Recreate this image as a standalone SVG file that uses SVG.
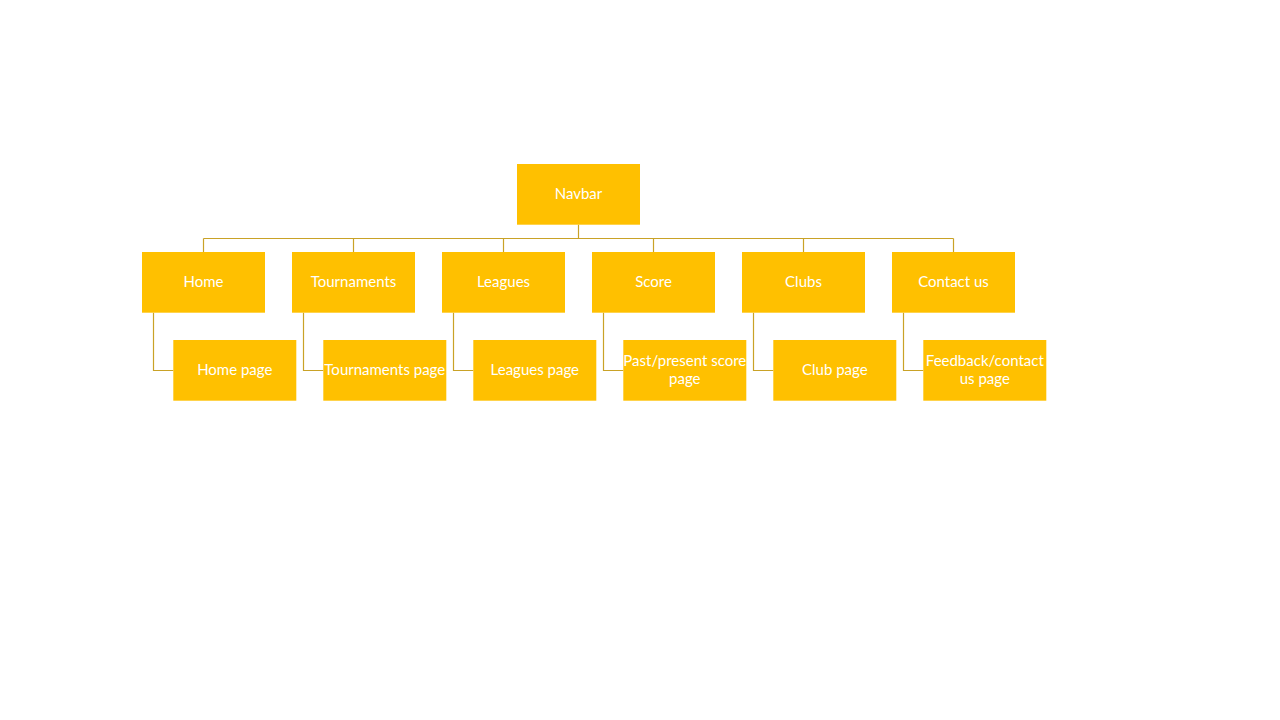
<svg xmlns="http://www.w3.org/2000/svg" width="1280" height="720" viewBox="0 0 1280 720">
  <style>
    .box { fill: #FFC000; }
    .lbl { font-family: Lato, "Liberation Sans", sans-serif; font-size: 15px; fill: #FFFFFF; text-anchor: middle; dominant-baseline: central; }
    .link { fill: none; stroke: #C9A227; stroke-width: 1.2; }
  </style>
  <rect width="1280" height="720" fill="#FFFFFF"/>

  <!-- connectors -->
  <g id="connectors">
    <path class="link" d="M578.5 224.7 V238.5 M203.5 238.5 H953.5 M203.5 238.5 V252 M353.5 238.5 V252 M503.5 238.5 V252 M653.5 238.5 V252 M803.5 238.5 V252 M953.5 238.5 V252"/>
    <path class="link" d="M153.5 312.7 V370.5 H173.3"/>
    <path class="link" d="M303.5 312.7 V370.5 H323.3"/>
    <path class="link" d="M453.5 312.7 V370.5 H473.3"/>
    <path class="link" d="M603.5 312.7 V370.5 H623.3"/>
    <path class="link" d="M753.5 312.7 V370.5 H773.3"/>
    <path class="link" d="M903.5 312.7 V370.5 H923.3"/>
  </g>

  <!-- root -->
  <g id="navbar">
    <rect class="box" x="517" y="164" width="123" height="60.7"/>
    <text class="lbl" x="578.5" y="192.5">Navbar</text>
  </g>

  <!-- first level -->
  <g id="home">
    <rect class="box" x="142" y="252" width="123" height="60.7"/>
    <text class="lbl" x="203.5" y="280.5">Home</text>
  </g>
  <g id="tournaments">
    <rect class="box" x="292" y="252" width="123" height="60.7"/>
    <text class="lbl" x="353.5" y="280.5">Tournaments</text>
  </g>
  <g id="leagues">
    <rect class="box" x="442" y="252" width="123" height="60.7"/>
    <text class="lbl" x="503.5" y="280.5">Leagues</text>
  </g>
  <g id="score">
    <rect class="box" x="592" y="252" width="123" height="60.7"/>
    <text class="lbl" x="653.5" y="280.5">Score</text>
  </g>
  <g id="clubs">
    <rect class="box" x="742" y="252" width="123" height="60.7"/>
    <text class="lbl" x="803.5" y="280.5">Clubs</text>
  </g>
  <g id="contact">
    <rect class="box" x="892" y="252" width="123" height="60.7"/>
    <text class="lbl" x="953.5" y="280.5">Contact us</text>
  </g>

  <!-- second level -->
  <g id="home-page">
    <rect class="box" x="173.3" y="340" width="123" height="60.7"/>
    <text class="lbl" x="234.8" y="368.5">Home page</text>
  </g>
  <g id="tournaments-page">
    <rect class="box" x="323.3" y="340" width="123" height="60.7"/>
    <text class="lbl" x="384.8" y="368.5">Tournaments page</text>
  </g>
  <g id="leagues-page">
    <rect class="box" x="473.3" y="340" width="123" height="60.7"/>
    <text class="lbl" x="534.8" y="368.5">Leagues page</text>
  </g>
  <g id="score-page">
    <rect class="box" x="623.3" y="340" width="123" height="60.7"/>
    <text class="lbl" x="684.8" y="360">Past/present score</text>
    <text class="lbl" x="684.8" y="378">page</text>
  </g>
  <g id="club-page">
    <rect class="box" x="773.3" y="340" width="123" height="60.7"/>
    <text class="lbl" x="834.8" y="368.5">Club page</text>
  </g>
  <g id="feedback-page">
    <rect class="box" x="923.3" y="340" width="123" height="60.7"/>
    <text class="lbl" x="984.8" y="360">Feedback/contact</text>
    <text class="lbl" x="984.8" y="378">us page</text>
  </g>
</svg>
